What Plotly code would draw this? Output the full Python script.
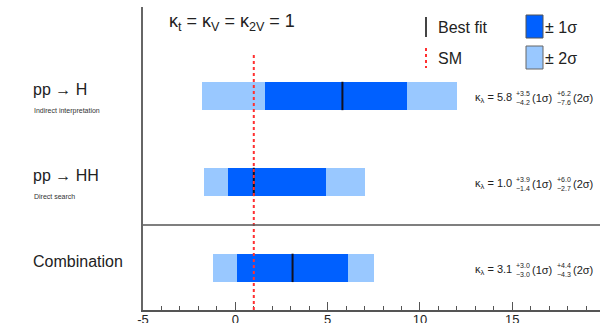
import plotly.graph_objects as go

# Measurements of kappa_lambda: best fit with asymmetric 1 sigma / 2 sigma intervals
rows = ["pp → H", "pp → HH", "Combination"]
subtitles = ["Indirect interpretation", "Direct search", ""]
row_pos = [2, 1, 0]
best_fit = [5.8, 1.0, 3.1]
err1_up = [3.5, 3.9, 3.0]
err1_dn = [4.2, 1.4, 3.0]
err2_up = [6.2, 6.0, 4.4]
err2_dn = [7.6, 2.7, 4.3]
sm_value = 1.0
x_ticks = [-5, 0, 5, 10, 15, 20]

DARK = "#0060ff"
LIGHT = "#99c8ff"
TEXT = "#222222"
FONT = "Liberation Sans, Arial, Helvetica, sans-serif"

W, H = 600, 323
ML, MR, MT, MB = 143, 0, 7, 13
PW, PH = W - ML - MR, H - MT - MB
BAR_H = 0.33
Y_RANGE = [-0.49, 3.035]
X_RANGE = [-5, 19.75]


def px(x):
    return (x - ML) / PW


def py(y):
    return (H - MB - y) / PH


fig = go.Figure()

# 2 sigma band
fig.add_trace(go.Bar(
    y=row_pos,
    x=[u + d for u, d in zip(err2_up, err2_dn)],
    base=[b - d for b, d in zip(best_fit, err2_dn)],
    orientation="h", width=BAR_H, marker=dict(color=LIGHT, line=dict(width=0)),
    showlegend=False, hoverinfo="skip",
))
# 1 sigma band
fig.add_trace(go.Bar(
    y=row_pos,
    x=[u + d for u, d in zip(err1_up, err1_dn)],
    base=[b - d for b, d in zip(best_fit, err1_dn)],
    orientation="h", width=BAR_H, marker=dict(color=DARK, line=dict(width=0)),
    showlegend=False, hoverinfo="skip",
))
# best-fit markers
for b, y in zip(best_fit, row_pos):
    fig.add_trace(go.Scatter(
        x=[b, b], y=[y - BAR_H / 2, y + BAR_H / 2], mode="lines",
        line=dict(color="#111122", width=2), showlegend=False, hoverinfo="skip",
    ))

# SM reference line
fig.add_shape(type="line", xref="x", yref="y", x0=sm_value, x1=sm_value,
              y0=Y_RANGE[0], y1=2.48, line=dict(color="#ff3030", width=2, dash="dot"))
# separator between individual results and the combination
fig.add_shape(type="line", xref="paper", yref="y", x0=0, x1=1, y0=0.5, y1=0.5,
              line=dict(color="#555555", width=1.5))

ann = []
# row labels
for name, sub, y in zip(rows, subtitles, row_pos):
    ann.append(dict(x=px(31), xref="paper", y=y + 0.07, yref="y", text=name,
                    showarrow=False, xanchor="left", yanchor="middle",
                    font=dict(size=16, color=TEXT)))
    if sub:
        ann.append(dict(x=px(32), xref="paper", y=y - 0.17, yref="y", text=sub,
                        showarrow=False, xanchor="left", yanchor="middle",
                        font=dict(size=7, color="#333333")))

# result text for each row: value, stacked 1 sigma errors, stacked 2 sigma errors
for b, u1, d1, u2, d2, y in zip(best_fit, err1_up, err1_dn, err2_up, err2_dn, row_pos):
    def t(xp, dy, txt, size):
        ann.append(dict(x=px(xp), xref="paper", y=y + dy, yref="y", text=txt,
                        showarrow=False, xanchor="left", yanchor="middle",
                        align="left", font=dict(size=size, color=TEXT)))
    t(473, -0.02, f"κ<sub>λ</sub> = {b:.1f}", 11)
    t(514, -0.02, f"+{u1:.1f}<br>−{d1:.1f}", 7)
    t(530, -0.02, "(1σ)", 11)
    t(555, -0.02, f"+{u2:.1f}<br>−{d2:.1f}", 7)
    t(571, -0.02, "(2σ)", 11)

# header
ann.append(dict(x=px(167), xref="paper", y=py(23), yref="paper",
                text="κ<sub>t</sub> = κ<sub>V</sub> = κ<sub>2V</sub> = 1",
                showarrow=False, xanchor="left", yanchor="middle",
                font=dict(size=18, color=TEXT)))

# legend
fig.add_shape(type="line", xref="paper", yref="paper", x0=px(426), x1=px(426),
              y0=py(17), y1=py(37), line=dict(color="#444444", width=2))
fig.add_shape(type="line", xref="paper", yref="paper", x0=px(426), x1=px(426),
              y0=py(48), y1=py(68), line=dict(color="#ff3030", width=2, dash="dot"))
fig.add_shape(type="rect", xref="paper", yref="paper", x0=px(526), x1=px(543),
              y0=py(38), y1=py(15), fillcolor=DARK, line=dict(color="#555555", width=1))
fig.add_shape(type="rect", xref="paper", yref="paper", x0=px(526), x1=px(543),
              y0=py(69), y1=py(46), fillcolor=LIGHT, line=dict(color="#666666", width=1))
for xp, yp, txt in [(436, 27, "Best fit"), (436, 58, "SM"),
                    (543, 27, "± 1σ"), (543, 58, "± 2σ")]:
    ann.append(dict(x=px(xp), xref="paper", y=py(yp), yref="paper", text=txt,
                    showarrow=False, xanchor="left", yanchor="middle",
                    font=dict(size=16, color=TEXT)))

fig.update_layout(
    width=W, height=H, margin=dict(l=ML, r=MR, t=MT, b=MB, autoexpand=False),
    paper_bgcolor="white", plot_bgcolor="white",
    barmode="overlay", bargap=0,
    font=dict(family=FONT, color=TEXT),
    annotations=ann,
    xaxis=dict(range=X_RANGE, tickvals=x_ticks, ticktext=[str(v) for v in x_ticks],
               automargin=False,
               ticks="inside", ticklen=8, tickwidth=1, tickcolor="#555555",
               ticklabelstandoff=-4,
               showline=True, linecolor="#555555", linewidth=2,
               showgrid=False, zeroline=False, tickfont=dict(size=13, color=TEXT),
               minor=dict(dtick=1, ticks="inside", ticklen=4, tickcolor="#555555")),
    yaxis=dict(range=Y_RANGE, showline=True, linecolor="#666666", linewidth=2,
               automargin=False,
               showticklabels=False, ticks="", showgrid=False, zeroline=False),
)

fig.write_html("out.html")
